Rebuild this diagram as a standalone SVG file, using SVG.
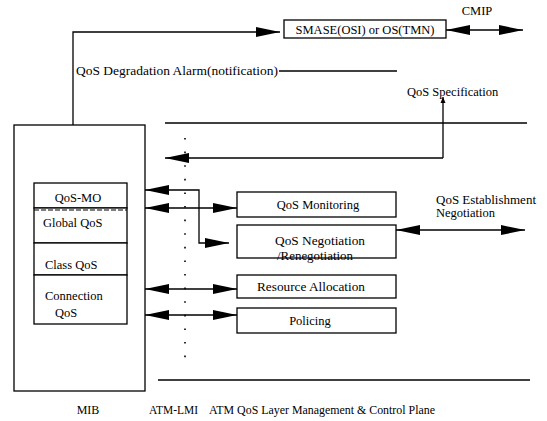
<svg xmlns="http://www.w3.org/2000/svg" width="547" height="421" viewBox="0 0 547 421">
  <style>
    .ln { fill: none; stroke: #000; stroke-width: 1.3; }
    .box { fill: #fff; stroke: #000; stroke-width: 1.3; }
    .t { font-family: "Liberation Serif", "Times New Roman", serif; font-size: 12.5px; fill: #000; }
    .s { font-size: 12px; }
    .c { text-anchor: middle; }
    .dot { fill: none; stroke: #000; stroke-width: 1.6; stroke-dasharray: 1.6 12; }
  </style>
  <defs>
    <marker id="ah" markerUnits="userSpaceOnUse" markerWidth="26" markerHeight="14" refX="24" refY="7" orient="auto-start-reverse">
      <path d="M0,2 L24,7 L0,12 z" fill="#000"/>
    </marker>
    <marker id="ahs" markerUnits="userSpaceOnUse" markerWidth="8" markerHeight="8" refX="6" refY="4" orient="auto-start-reverse">
      <path d="M0,1.5 L6,4 L0,6.5 z" fill="#000"/>
    </marker>
  </defs>

  <!-- management system -->
  <g id="smase">
    <rect class="box" x="284" y="20" width="162" height="18"/>
    <text class="t c" x="365" y="33.5">SMASE(OSI) or OS(TMN)</text>
  </g>

  <!-- management information base -->
  <g id="mib">
    <rect class="box" x="14" y="125" width="131" height="266"/>
    <rect class="box" x="34" y="183" width="93" height="25"/>
    <text class="t c" x="78" y="202">QoS-MO</text>
    <rect class="box" x="34" y="208" width="93" height="35"/>
    <line x1="34" y1="210" x2="127" y2="210" stroke="#000" stroke-width="1.2" stroke-dasharray="5 2"/>
    <text class="t" x="43" y="227">Global QoS</text>
    <rect class="box" x="34" y="243" width="93" height="32"/>
    <text class="t" x="45" y="269">Class QoS</text>
    <rect class="box" x="34" y="275" width="93" height="49"/>
    <text class="t" x="45" y="300">Connection</text>
    <text class="t" x="55" y="317">QoS</text>
  </g>

  <g id="monitoring">
    <rect class="box" x="237" y="192" width="159" height="25"/>
    <text class="t c" x="318" y="209">QoS Monitoring</text>
  </g>
  <g id="negotiation">
    <rect class="box" x="237" y="225" width="159" height="33"/>
    <text class="t c" x="320" y="245" textLength="90" lengthAdjust="spacingAndGlyphs">QoS Negotiation</text>
    <text class="t c" x="315" y="260" textLength="76" lengthAdjust="spacingAndGlyphs">/Renegotiation</text>
  </g>
  <g id="resource">
    <rect class="box" x="237" y="275" width="159" height="23"/>
    <text class="t c" x="311" y="291" textLength="108" lengthAdjust="spacingAndGlyphs">Resource Allocation</text>
  </g>
  <g id="policing">
    <rect class="box" x="237" y="308" width="159" height="25"/>
    <text class="t c" x="310" y="325">Policing</text>
  </g>

  <!-- connectors -->
  <g id="connectors">
    <path class="ln" d="M73,125 V32 H280" marker-end="url(#ah)"/>
    <path class="ln" d="M446,30 H523" marker-start="url(#ah)" marker-end="url(#ah)"/>
    <line class="ln" x1="279" y1="71" x2="397" y2="71"/>
    <line class="ln" x1="165" y1="123" x2="527" y2="123"/>
    <path class="ln" d="M443,158 H165" marker-end="url(#ah)"/>
    <path class="ln" d="M443,158 V97" marker-end="url(#ahs)"/>
    <line class="dot" x1="185" y1="138" x2="185" y2="368"/>
    <path class="ln" d="M145,190 H199 V243 H229" marker-start="url(#ah)" marker-end="url(#ah)"/>
    <path class="ln" d="M145,208 H237" marker-start="url(#ah)" marker-end="url(#ah)"/>
    <path class="ln" d="M396,230 H525" marker-start="url(#ah)" marker-end="url(#ah)"/>
    <path class="ln" d="M145,289 H237" marker-start="url(#ah)" marker-end="url(#ah)"/>
    <path class="ln" d="M145,315 H237" marker-start="url(#ah)" marker-end="url(#ah)"/>
    <line class="ln" x1="158" y1="380" x2="530" y2="380"/>
  </g>

  <!-- labels -->
  <text class="t c" x="477" y="15">CMIP</text>
  <text class="t" x="76" y="75" textLength="202" lengthAdjust="spacingAndGlyphs">QoS Degradation Alarm(notification)</text>
  <text class="t" x="407" y="96">QoS Specification</text>
  <text class="t" x="436" y="204" textLength="100" lengthAdjust="spacingAndGlyphs">QoS Establishment</text>
  <text class="t" x="436" y="217">Negotiation</text>
  <text class="t s c" x="88" y="414">MIB</text>
  <text class="t s" x="149" y="414" textLength="49" lengthAdjust="spacingAndGlyphs">ATM-LMI</text>
  <text class="t s" x="209" y="414" textLength="226" lengthAdjust="spacingAndGlyphs">ATM QoS Layer Management &amp; Control Plane</text>
</svg>
